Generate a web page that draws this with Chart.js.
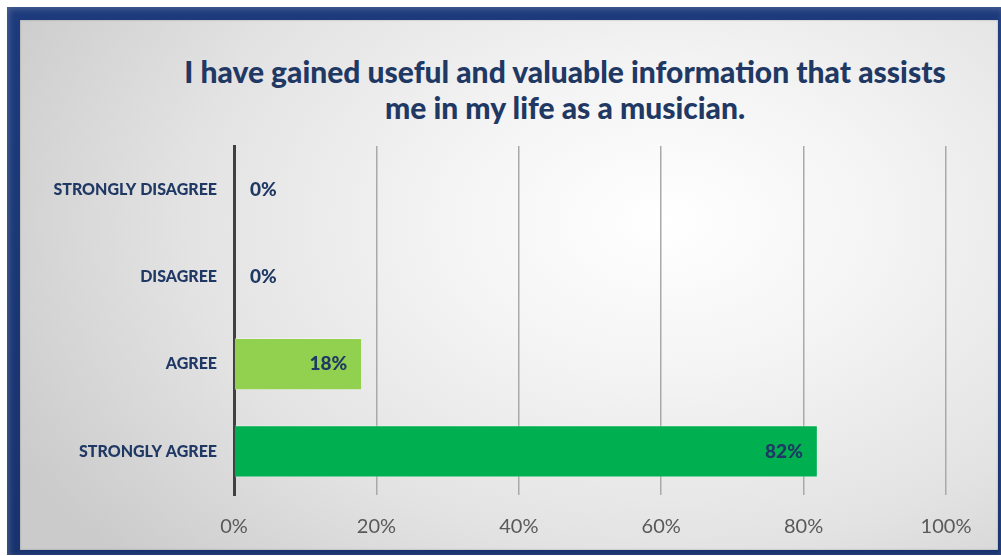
<!DOCTYPE html>
<html>
<head>
<meta charset="utf-8">
<script src="https://cdn.jsdelivr.net/npm/chart.js@4/dist/chart.umd.min.js"></script>
<style>
  html, body { margin: 0; padding: 0; background: #ffffff; }
  body { width: 1001px; height: 556px; position: relative; overflow: hidden; font-family: Lato, "Open Sans", sans-serif; }
  #frame {
    position: absolute; left: 7px; top: 7px; width: 994px; height: 548px;
    background: linear-gradient(180deg, #1d3b7c 0%, #17336f 100%);
    box-shadow: inset 2px 2px 6px rgba(255,255,255,0.2);
  }
  #panel {
    position: absolute; left: 20px; top: 20px; width: 978px; height: 530px;
    background: radial-gradient(ellipse 75% 95% at 66% 38%, #ffffff 0%, #f4f4f4 30%, #e3e3e3 65%, #cbcbcb 100%);
    box-shadow: inset 0 0 2px rgba(0,0,0,0.3);
  }
  #title {
    position: absolute; left: 85px; top: 53px; width: 960px; text-align: center;
    color: #1f3864; font-weight: 900; font-size: 30px; line-height: 36px;
  }
  #chartBox { position: absolute; left: 20px; top: 20px; width: 978px; height: 530px; }
</style>
</head>
<body>
<div id="frame"></div>
<div id="panel"></div>
<div id="title">I have gained useful and valuable information that assists<br>me in my life as a musician.</div>
<div id="chartBox"><canvas id="c"></canvas></div>
<script>
const categories = ["STRONGLY DISAGREE", "DISAGREE", "AGREE", "STRONGLY AGREE"];
const shares = [0, 0, 18, 82];
const barColors = ["#92d050", "#92d050", "#92d050", "#00b050"];
const xTicks = [0, 20, 40, 60, 80, 100];

const navy = "#1f3864";

// Percentage labels: inside the bar end, or just right of the axis when empty
const valueLabels = {
  id: "valueLabels",
  afterDatasetsDraw(chart) {
    const ctx = chart.ctx;
    const meta = chart.getDatasetMeta(0);
    ctx.save();
    ctx.font = "900 19px Lato, 'Open Sans', sans-serif";
    ctx.fillStyle = navy;
    ctx.textBaseline = "middle";
    meta.data.forEach((bar, i) => {
      const v = shares[i];
      const txt = v + "%";
      if (v === 0) {
        ctx.textAlign = "left";
        ctx.fillText(txt, bar.base + 16, bar.y);
      } else {
        ctx.textAlign = "right";
        ctx.fillText(txt, bar.x - 15, bar.y);
      }
    });
    ctx.restore();
  }
};

new Chart(document.getElementById("c"), {
  type: "bar",
  data: {
    labels: categories,
    datasets: [{
      data: shares,
      backgroundColor: barColors,
      borderColor: "rgba(255,255,255,0.35)",
      borderWidth: 1,
      borderSkipped: "start",
      barPercentage: 0.6,
      categoryPercentage: 1.0
    }]
  },
  options: {
    indexAxis: "y",
    responsive: true,
    maintainAspectRatio: false,
    animation: false,
    layout: { padding: { left: 0, top: 126, right: 52, bottom: 8 } },
    plugins: {
      legend: { display: false },
      title: { display: false },
      tooltip: { enabled: false }
    },
    scales: {
      x: {
        min: 0, max: 100,
        afterBuildTicks(scale) { scale.ticks = xTicks.map(v => ({ value: v })); },
        grid: { color: "#a9a9a9", lineWidth: 1.5, drawTicks: false },
        border: { display: false },
        ticks: {
          color: "#595959",
          padding: 20,
          font: { family: "Lato, 'Open Sans', sans-serif", size: 20 },
          callback: v => v + "%"
        },
        afterFit(scale) { scale.height = 47; }
      },
      y: {
        grid: { display: false },
        border: { display: true, color: "#404040", width: 3 },
        ticks: {
          color: navy,
          padding: 9,
          font: { family: "Lato, 'Open Sans', sans-serif", size: 16, weight: "900" }
        },
        afterFit(scale) { scale.width = 214; }
      }
    }
  },
  plugins: [valueLabels]
});
</script>
</body>
</html>
